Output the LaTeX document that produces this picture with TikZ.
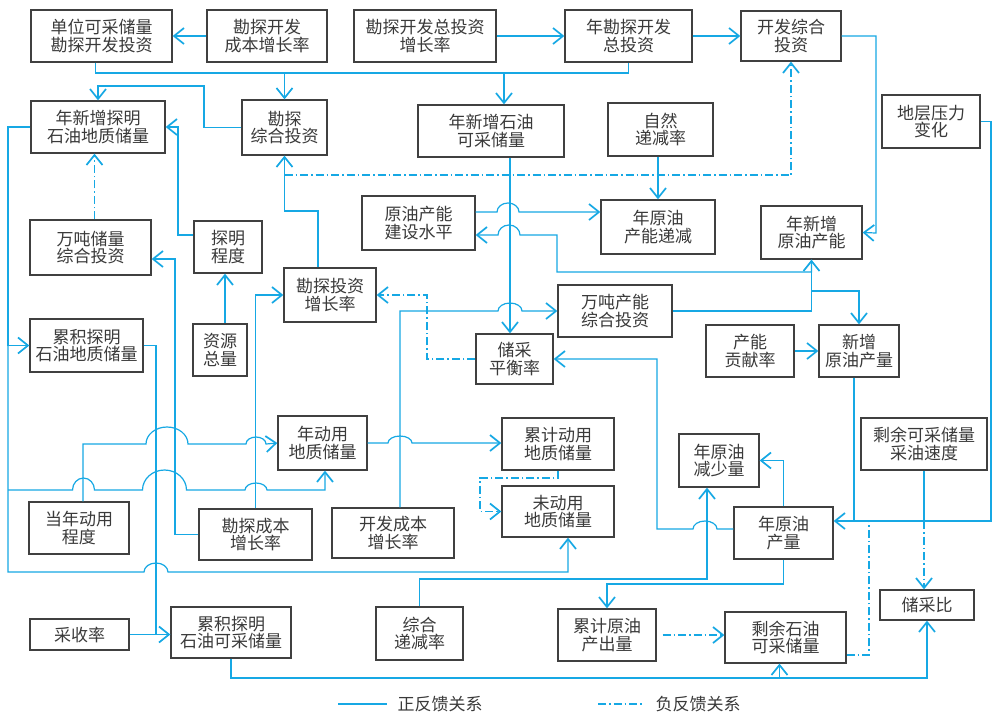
\documentclass[tikz,border=0pt]{standalone}
\usepackage{fontspec}
\setmainfont{Noto Sans CJK SC}
\usetikzlibrary{arrows.meta}
\definecolor{fbblue}{RGB}{22,168,228}
\definecolor{boxgray}{RGB}{64,64,64}
\definecolor{txtgray}{RGB}{58,58,58}

\begin{document}
\begin{tikzpicture}[x=1pt,y=-1pt,
  box/.style={draw=boxgray,line width=1.3pt,text=txtgray,align=center,inner sep=0pt,font=\fontsize{17}{17.5}\selectfont},
  fb/.style={draw=fbblue,line width=1.2pt},
  neg/.style={fb,dash pattern=on 8pt off 3pt on 1.5pt off 3pt},
  >={Straight Barb[length=10pt,width=16pt,line width=1.7pt]}]
\path[fill=white,use as bounding box] (0,0) rectangle (998,713);

\node (a1) at (101.5,36) [box,minimum width=141pt,minimum height=52pt] {单位可采储量\\勘探开发投资};
\node (a2) at (267,36) [box,minimum width=120pt,minimum height=52pt] {勘探开发\\成本增长率};
\node (a3) at (425,36) [box,minimum width=142pt,minimum height=52pt] {勘探开发总投资\\增长率};
\node (a4) at (628.5,36) [box,minimum width=127pt,minimum height=52pt] {年勘探开发\\总投资};
\node (a5) at (791,36) [box,minimum width=100pt,minimum height=50pt] {开发综合\\投资};
\node (b1) at (98,127) [box,minimum width=134pt,minimum height=52pt] {年新增探明\\石油地质储量};
\node (b2) at (284.5,127.5) [box,minimum width=85pt,minimum height=55pt] {勘探\\综合投资};
\node (b3) at (491,131) [box,minimum width=146pt,minimum height=52pt] {年新增石油\\可采储量};
\node (b4) at (660.5,129.5) [box,minimum width=105pt,minimum height=53pt] {自然\\递减率};
\node (b5) at (931,121.5) [box,minimum width=98pt,minimum height=53pt] {地层压力\\变化};
\node (c1) at (418.5,223) [box,minimum width=113pt,minimum height=54pt] {原油产能\\建设水平};
\node (c2) at (658,227) [box,minimum width=114pt,minimum height=54pt] {年原油\\产能递减};
\node (c3) at (811.5,232.5) [box,minimum width=101pt,minimum height=53pt] {年新增\\原油产能};
\node (d1) at (90.5,247.5) [box,minimum width=121pt,minimum height=55pt] {万吨储量\\综合投资};
\node (d2) at (228,247) [box,minimum width=68pt,minimum height=52pt] {探明\\程度};
\node (e1) at (330,295) [box,minimum width=92pt,minimum height=54pt] {勘探投资\\增长率};
\node (e2) at (615,311) [box,minimum width=114pt,minimum height=52pt] {万吨产能\\综合投资};
\node (e3) at (514.5,359) [box,minimum width=77pt,minimum height=50pt] {储采\\平衡率};
\node (e4) at (750,351) [box,minimum width=88pt,minimum height=52pt] {产能\\贡献率};
\node (e5) at (859,351) [box,minimum width=80pt,minimum height=52pt] {新增\\原油产量};
\node (f1) at (86.5,345.5) [box,minimum width=113pt,minimum height=53pt] {累积探明\\石油地质储量};
\node (f2) at (220,350) [box,minimum width=54pt,minimum height=52pt] {资源\\总量};
\node (g1) at (322.5,443) [box,minimum width=89pt,minimum height=54pt] {年动用\\地质储量};
\node (g2) at (558,444) [box,minimum width=112pt,minimum height=52pt] {累计动用\\地质储量};
\node (g3) at (719,460.5) [box,minimum width=80pt,minimum height=53pt] {年原油\\减少量};
\node (g4) at (924,444) [box,minimum width=126pt,minimum height=52pt] {剩余可采储量\\采油速度};
\node (h1) at (79,528) [box,minimum width=100pt,minimum height=52pt] {当年动用\\程度};
\node (h2) at (255.5,534.5) [box,minimum width=113pt,minimum height=51pt] {勘探成本\\增长率};
\node (h3) at (393,533) [box,minimum width=122pt,minimum height=50pt] {开发成本\\增长率};
\node (h4) at (558,511.5) [box,minimum width=112pt,minimum height=51pt] {未动用\\地质储量};
\node (h5) at (783.5,533) [box,minimum width=99pt,minimum height=52pt] {年原油\\产量};
\node (i1) at (79.5,634.5) [box,minimum width=99pt,minimum height=31pt] {采收率};
\node (i2) at (231,632.5) [box,minimum width=120pt,minimum height=51pt] {累积探明\\石油可采储量};
\node (i3) at (419.5,633.5) [box,minimum width=87pt,minimum height=53pt] {综合\\递减率};
\node (i4) at (607,635) [box,minimum width=98pt,minimum height=52pt] {累计原油\\产出量};
\node (i5) at (785.5,637.5) [box,minimum width=121pt,minimum height=51pt] {剩余石油\\可采储量};
\node (i6) at (927,605) [box,minimum width=94pt,minimum height=30pt] {储采比};

\coordinate (a1out) at ([xshift=-6pt]a1.south);
\coordinate (b3in) at ([xshift=13pt]b3.north);
\coordinate (b3out) at ([xshift=19pt]b3.south);
\coordinate (c1out) at ([yshift=11pt]c1.east);
\coordinate (c1in) at ([yshift=-12pt]c1.east);
\coordinate (d1out) at ([xshift=4pt]d1.north);
\coordinate (d1in) at ([yshift=-11.5pt]d1.east);
\coordinate (d2out) at ([yshift=12pt]d2.west);
\coordinate (e1out) at ([xshift=-12pt]e1.north);
\coordinate (e5out) at ([xshift=-5pt]e5.south);
\coordinate (f2out) at ([xshift=5pt]f2.north);
\coordinate (g1in) at ([xshift=2.5pt]g1.south);
\coordinate (g3in) at ([xshift=-12pt]g3.south);
\coordinate (h1out) at ([xshift=4pt]h1.north);
\coordinate (h3out) at ([xshift=7pt]h3.north);
\coordinate (h4in) at ([xshift=10pt]h4.south);
\coordinate (h5in) at ([yshift=12pt]h5.east);
\coordinate (h5out) at ([yshift=4pt]h5.west);
\coordinate (i5in) at ([xshift=-6pt]i5.south);
\coordinate (i5out) at ([yshift=-17.5pt]i5.east);

\foreach \s/\t in {a2/a1,a3/a4,a4/a5,e4/e5} {
\draw[fb,->] (\s) -- (\t);
}

\draw[fb] (a1out) |- (a4.south |- 0,73) -- (a4.south);
\draw[fb,->] (b2.north |- 0,73) -- (b2.north);
\draw[fb,->] (b3in |- 0,73) -- (b3in);
\draw[fb,->] (b2.west) -| (204,86) -| (b1.north);
\draw[fb,->] (d2out) -| (178,127) -- (b1.east);
\draw[neg,->] (d1out) -- (d1out |- b1.south);
\draw[fb,->] (e1out) |- (b2.south |- 0,211) -- (b2.south);
\draw[neg,->] (b2.south |- 0,175) -| (a5.south);
\draw[fb,->] (b3out) -- (b3out |- e3.north);
\draw[fb,->] (b4.south -| c2) -- (c2.north);
\draw[fb,->] (c1out) -- (497,212) arc[start angle=180,end angle=0,x radius=11pt,y radius=9pt] -- (c2.west |- c1out);
\draw[fb,->] (c3.south) -- (c3.south |- 0,272) -| (557,235) -- (520,235) arc[start angle=0,end angle=180,x radius=11pt,y radius=10pt] -- (c1in);
\draw[fb,->] (e2.east) -| (c3.south);
\draw[fb,->] (c3.south |- 0,291) -| (e5.north);
\draw[fb,->] (a5.east) -| (876,233) -- (c3.east);
\draw[fb,->] (b5.east) -| (991,521) -- (h5in);
\draw[fb] (e5out) -- (e5out |- h5in);
\draw[fb] (g4.south) -- (g4.south |- h5in);
\draw[neg,->] (g4.south |- h5in) -- (g4.south |- i6.north);
\draw[neg] (i5out) -| (869,521);
\draw[fb,->] (h5.north) |- (g3.east);
\draw[fb,->] (h5out) -- (717,529) arc[start angle=0,end angle=180,x radius=12pt,y radius=8pt] -- (657,529) |- (e3.east);
\draw[fb,->] (h5.south) |- (i4.north |- 0,584) -- (i4.north);
\draw[fb,->] (i3.north) |- (g3in |- 0,579) -- (g3in);
\draw[neg,->] ([xshift=6pt]i4.east) -- (i4.east -| i5.west);
\draw[fb,->] (i2.south) |- (i6.south |- 0,678) -- (i6.south);
\draw[fb,->] (i5in |- 0,678) -- (i5in);
\draw[fb,->] (i1.east) -- (i1.east -| i2.west);
\draw[fb] (f1.east) -| (156,634.5);
\draw[fb,->] (b1.west) -| (8,345.5) -- (f1.west);
\draw[fb,->] (8,345.5) -- (8,572) -- (144,572) arc[start angle=180,end angle=0,x radius=12pt,y radius=9pt] -- (h4in |- 0,572) -- (h4in);
\draw[fb,->] (8,490) -- (72.5,490) arc[start angle=180,end angle=0,x radius=11pt,y radius=12pt] -- (142.5,490) arc[start angle=180,end angle=0,x radius=22pt,y radius=20pt] -- (245,490) arc[start angle=180,end angle=0,x radius=11pt,y radius=7pt] -- (g1in |- 0,490) -- (g1in);
\draw[fb,->] (h1out) |- (146,444) arc[start angle=180,end angle=0,x radius=21pt,y radius=17pt] -- (246,444) arc[start angle=180,end angle=0,x radius=10pt,y radius=7pt] -- (g1.west);
\draw[fb,->] (h2.west) -| (175,259) -- (d1in);
\draw[fb,->] (h2.north) |- (e1.west);
\draw[fb,->] (h3out) |- (498,311) arc[start angle=180,end angle=0,x radius=12pt,y radius=8pt] -- (e2.west);
\draw[fb,->] (g1.east) -- (388,443) arc[start angle=180,end angle=0,x radius=12pt,y radius=7pt] -- (g2.west |- g1.east);
\draw[neg,->] (g2.south) |- (480,478) |- (h4.west);
\draw[neg,->] (e3.west) -| (427,295) -- (e1.east);
\draw[fb,->] (f2out) -- (f2out |- d2.south);

\node (lgpos) at (440,704) [text=txtgray,font=\fontsize{17}{17.5}\selectfont] {正反馈关系};
\node (lgneg) at (698,704) [text=txtgray,font=\fontsize{17}{17.5}\selectfont] {负反馈关系};
\coordinate (lg1) at (338,704);
\coordinate (lg2) at (598,704);
\draw[fb] (lg1) -- ([xshift=-7pt]lgpos.west);
\draw[neg] (lg2) -- ([xshift=-9pt]lgneg.west);
\end{tikzpicture}
\end{document}
